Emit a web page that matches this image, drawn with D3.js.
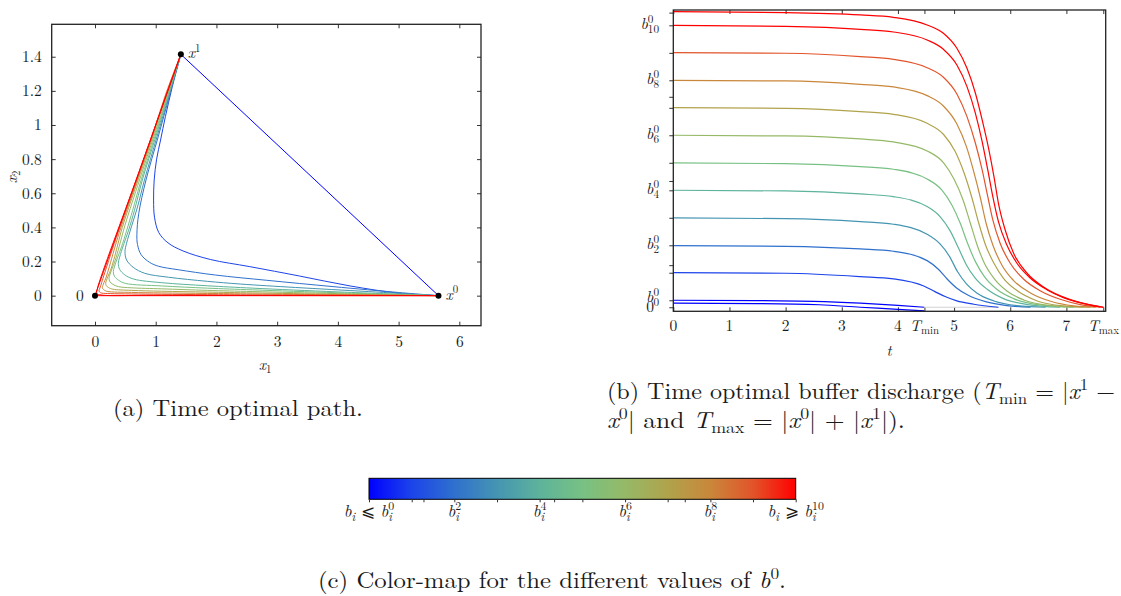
<!DOCTYPE html>
<html>
<head>
<meta charset="utf-8">
<script src="https://cdn.jsdelivr.net/npm/d3@7"></script>
<style>
  body { margin: 0; background: #fff; }
  svg text { fill: #1a1a1a; }
  .tick text { font-size: 15.5px; }
</style>
</head>
<body>
<svg id="fig" width="1121" height="596"></svg>
<script>
// ---------- data: (a) time optimal paths, x = (x1, x2) ----------
const X0 = [5.657, 0], X1 = [1.414, 1.414], ORIGIN = [0, 0];
const xTicksL = [0, 1, 2, 3, 4, 5, 6];
const yTicksL = [0, 0.2, 0.4, 0.6, 0.8, 1, 1.2, 1.4];

const pathB0 = [[5.657, 0], [1.414, 1.414]];
const pathB1 = [[5.657,0],[5.02,0.014],[4.20,0.057],[3.37,0.115],[2.55,0.170],[1.90,0.212],[1.45,0.262],[1.20,0.310],[1.05,0.370],[0.98,0.460],[0.965,0.560],[0.975,0.678],[1.015,0.80],[1.08,0.912],[1.16,1.05],[1.27,1.22],[1.414,1.414]];
const pathB2 = [[5.657,0],[5.02,0.018],[3.92,0.053],[2.83,0.090],[1.98,0.121],[1.37,0.152],[1.05,0.172],[0.90,0.195],[0.76,0.240],[0.70,0.300],[0.69,0.360],[0.72,0.48],[0.84,0.678],[1.04,0.93],[1.232,1.18],[1.414,1.414]];
const pathB3 = [[5.657,0],[4.5,0.024],[3.3,0.048],[2.4,0.068],[1.85,0.084],[1.21,0.108],[0.82,0.131],[0.63,0.166],[0.52,0.209],[0.494,0.258],[0.52,0.307],[0.60,0.404],[0.70,0.52],[0.815,0.678],[1.02,0.93],[1.224,1.18],[1.414,1.414]];
const pathB4 = [[5.657,0],[4.0,0.022],[2.6,0.044],[1.85,0.058],[1.10,0.076],[0.64,0.097],[0.49,0.122],[0.406,0.154],[0.384,0.190],[0.406,0.226],[0.47,0.298],[0.554,0.384],[0.65,0.50],[0.78,0.678],[1.00,0.93],[1.213,1.18],[1.414,1.414]];
const pathB5 = [[5.657,0],[4.0,0.017],[2.6,0.034],[1.85,0.044],[1.10,0.057],[0.50,0.072],[0.386,0.091],[0.319,0.114],[0.302,0.141],[0.319,0.168],[0.369,0.221],[0.436,0.285],[0.52,0.38],[0.62,0.50],[0.76,0.678],[0.984,0.93],[1.206,1.18],[1.414,1.414]];
const pathB6 = [[5.657,0],[4.0,0.012],[2.6,0.024],[1.85,0.031],[1.10,0.040],[0.60,0.046],[0.385,0.053],[0.295,0.066],[0.244,0.083],[0.231,0.102],[0.244,0.121],[0.283,0.160],[0.333,0.206],[0.40,0.29],[0.50,0.42],[0.733,0.678],[0.966,0.93],[1.197,1.18],[1.414,1.414]];
const pathB7 = [[5.657,0],[4.0,0.008],[2.6,0.016],[1.85,0.021],[1.10,0.026],[0.60,0.031],[0.293,0.038],[0.225,0.047],[0.186,0.059],[0.176,0.073],[0.186,0.087],[0.215,0.114],[0.254,0.147],[0.31,0.21],[0.45,0.40],[0.71,0.678],[0.95,0.93],[1.18,1.18],[1.414,1.414]];
const pathB8 = [[5.657,0],[4.0,0.005],[2.6,0.010],[1.85,0.013],[1.10,0.016],[0.60,0.019],[0.20,0.025],[0.155,0.032],[0.128,0.040],[0.121,0.049],[0.128,0.058],[0.148,0.077],[0.175,0.099],[0.22,0.15],[0.40,0.37],[0.695,0.678],[0.94,0.93],[1.17,1.18],[1.414,1.414]];
const pathB9 = [[5.657,0],[4.0,0.003],[2.6,0.005],[1.85,0.006],[1.10,0.008],[0.60,0.010],[0.25,0.012],[0.11,0.015],[0.084,0.019],[0.070,0.024],[0.066,0.029],[0.070,0.035],[0.081,0.045],[0.095,0.059],[0.13,0.10],[0.35,0.34],[0.685,0.678],[0.935,0.93],[1.165,1.18],[1.414,1.414]];
const pathB10 = [[5.657,0],[1.0,0.002],[0.10,0.004],[0.03,0.012],[0.035,0.035],[0.70,0.70],[1.414,1.414]];
const pathTop = [[5.657, 0], [0, 0], [1.414, 1.414]];

// ---------- data: (b) buffer discharge, (t, b) ----------
const T_MIN = 4.472, T_MAX = 7.657;
const tTicks = [0, 1, 2, 3, 4, T_MIN, 5, 6, 7, T_MAX];
const tLabels = ["0", "1", "2", "3", "4", "min", "5", "6", "7", "max"];
const bLevels = [0.083, 0.410, 0.736, 1.063, 1.389, 1.716, 2.043, 2.369, 2.696, 3.022, 3.349];
const bExtraTicks = [0, 0.5, 1.5, 2.5, 3.5];
const bLabelled = [0, 2, 4, 6, 8, 10];

const bufLow = [[0,0.048],[1.5,0.044],[2.6,0.030],[3.33,0],[4.0,-0.024],[4.47,-0.044]];
const buf0 = [[0,0.083],[1.5,0.079],[2.5,0.070],[3.33,0.048],[4.0,0.022],[4.47,0]];
const bufZero = [[4.47,0],[5.79,0]];
const buf1 = [[0,0.412],[2,0.404],[3.33,0.364],[3.92,0.337],[4.46,0.253],[4.66,0.186],[4.84,0.127],[5.05,0.075],[5.35,0.036],[5.79,0]];
const buf2 = [[0,0.732],[2,0.724],[3.33,0.693],[3.92,0.665],[4.52,0.554],[4.72,0.451],[4.88,0.333],[5.05,0.226],[5.26,0.139],[5.56,0.067],[5.94,0.020],[6.36,0]];
const buf3 = [[0,1.061],[2,1.053],[3.33,1.017],[3.92,0.986],[4.52,0.867],[4.75,0.752],[4.92,0.602],[5.06,0.424],[5.22,0.277],[5.41,0.166],[5.71,0.075],[6.12,0.020],[6.63,0]];
const buf4 = [[0,1.390],[2,1.382],[3.33,1.346],[3.92,1.314],[4.52,1.196],[4.75,1.077],[4.93,0.907],[5.08,0.701],[5.22,0.503],[5.38,0.344],[5.59,0.214],[5.88,0.103],[6.30,0.032],[6.89,0]];
const buf5 = [[0,1.714],[2,1.706],[3.33,1.671],[3.92,1.639],[4.52,1.524],[4.78,1.394],[4.96,1.215],[5.11,0.998],[5.24,0.760],[5.38,0.542],[5.54,0.364],[5.76,0.214],[6.06,0.103],[6.48,0.032],[7.13,0]];
const buf6 = [[0,2.043],[2,2.035],[3.33,1.999],[3.92,1.964],[4.52,1.857],[4.81,1.718],[5.00,1.520],[5.16,1.275],[5.29,0.998],[5.41,0.740],[5.54,0.523],[5.71,0.344],[5.94,0.194],[6.24,0.087],[6.72,0.020],[7.31,0]];
const buf7 = [[0,2.371],[2,2.363],[3.33,2.324],[3.92,2.292],[4.52,2.185],[4.81,2.055],[5.02,1.849],[5.18,1.591],[5.32,1.295],[5.44,0.998],[5.56,0.740],[5.71,0.523],[5.88,0.344],[6.12,0.198],[6.48,0.075],[6.95,0.016],[7.43,0]];
const buf8 = [[0,2.696],[2,2.688],[3.33,2.648],[3.92,2.617],[4.52,2.514],[4.81,2.391],[5.05,2.177],[5.22,1.908],[5.35,1.611],[5.47,1.295],[5.57,0.998],[5.69,0.740],[5.85,0.503],[6.06,0.317],[6.36,0.170],[6.72,0.071],[7.13,0.016],[7.52,0]];
const buf9 = [[0,3.025],[2,3.017],[3.33,2.977],[3.92,2.945],[4.52,2.846],[4.81,2.732],[5.05,2.534],[5.23,2.264],[5.38,1.948],[5.50,1.631],[5.60,1.314],[5.69,1.037],[5.82,0.760],[6.00,0.523],[6.24,0.333],[6.54,0.194],[6.89,0.095],[7.25,0.032],[7.61,0]];
const buf10 = [[0,3.349],[2,3.337],[3.33,3.302],[3.92,3.270],[4.52,3.175],[4.81,3.064],[5.05,2.878],[5.23,2.621],[5.38,2.304],[5.50,1.968],[5.60,1.631],[5.69,1.314],[5.79,1.017],[5.94,0.740],[6.12,0.523],[6.36,0.344],[6.66,0.206],[6.95,0.115],[7.31,0.044],[7.66,0]];
const bufTop = [[0,3.511],[2,3.500],[3.33,3.472],[3.92,3.444],[4.52,3.353],[4.81,3.254],[5.05,3.076],[5.23,2.838],[5.38,2.542],[5.50,2.225],[5.62,1.869],[5.71,1.552],[5.79,1.235],[5.91,0.918],[6.06,0.641],[6.30,0.404],[6.60,0.238],[6.89,0.135],[7.25,0.055],[7.66,0]];

// ---------- colour map ----------
const cmapStops = [0, 0.1, 0.2, 0.3, 0.4, 0.5, 0.6, 0.7, 0.8, 0.9, 1];
const cmapColors = ["#0000ff", "#1c44ea", "#2f70cd", "#4595b2", "#5db39b", "#78c184",
                    "#95b967", "#b0a34c", "#c9873b", "#e2542a", "#ff0000"];
const cbTickExtra = [0.5, 1.5, 2.5];

const cmap = d3.scaleLinear(cmapStops, cmapColors).interpolate(d3.interpolateRgb);

// pick the first serif family that is really installed
function pickFont(cands) {
    const ctx = document.createElement("canvas").getContext("2d");
    const probe = "mmmmmmmmmmlliWQ0123456789";
    const widthWith = f => { ctx.font = "40px " + f; return ctx.measureText(probe).width; };
    const bMono = widthWith("monospace"), bSans = widthWith("sans-serif");
    for (const f of cands) {
        if (widthWith(`"${f}", monospace`) !== bMono || widthWith(`"${f}", sans-serif`) !== bSans) return f;
    }
    return null;
}
const serifFont = pickFont(["Latin Modern Roman", "CMU Serif", "Liberation Serif", "DejaVu Serif",
                            "Noto Serif", "Tinos", "Times New Roman", "FreeSerif", "Nimbus Roman"]);
const svg = d3.select("#fig")
    .attr("font-family", serifFont ? `"${serifFont}", serif` : "serif");

// one <text> with sub / superscripts as tspans, y is the baseline
function mathText(parent, x, y, tokens, size, anchor = "start", fitWidth = null) {
    const g = parent.append("g");
    const txt = g.append("text").attr("xml:space", "preserve").style("white-space", "pre");
    let cx = 0, supX = 0, supW = 0;
    for (const [s, kind = "r", it = false] of tokens) {
        const small = kind !== "r";
        const t = txt.append("tspan")
            .attr("font-size", small ? size * 0.7 : size)
            .attr("font-style", it ? "italic" : null)
            .text(s);
        let px = cx, py = 0;
        if (kind === "sup") py = -size * 0.4;
        if (kind === "sub") py = size * 0.22;
        if (kind === "stack") { px = supX; py = size * 0.26; }
        t.attr("x", px).attr("y", py);
        const w = t.node().getComputedTextLength();
        if (kind === "sup") { supX = cx; supW = w; cx += w; }
        else if (kind === "stack") cx = supX + Math.max(supW, w);
        else cx += w;
    }
    const sx = fitWidth ? fitWidth / cx : 1;
    const dx = anchor === "end" ? -cx * sx : anchor === "middle" ? -cx * sx / 2 : 0;
    g.attr("transform", `translate(${x + dx},${y}) scale(${sx},1)`);
    return g;
}

function styleAxis(g) {
    g.select(".domain").remove();
    g.selectAll(".tick line").attr("stroke", "#333");
    g.attr("font-family", null).attr("font-size", null);
    return g;
}

// ================= (a) =================
const xL = d3.scaleLinear([-0.713, 6.357], [51.7, 481]);
const yL = d3.scaleLinear([-0.176, 1.59], [325.7, 24.3]);
const gA = svg.append("g");

gA.append("g").attr("transform", `translate(0,${yL.range()[0]})`)
    .call(d3.axisBottom(xL).tickValues(xTicksL).tickSize(-4).tickPadding(10).tickFormat(d3.format("d")))
    .call(styleAxis);
gA.append("g").attr("transform", `translate(0,${yL.range()[1]})`)
    .call(d3.axisTop(xL).tickValues(xTicksL).tickSize(-4).tickFormat(""))
    .call(styleAxis);
gA.append("g").attr("transform", `translate(${xL.range()[0]},0)`)
    .call(d3.axisLeft(yL).tickValues(yTicksL).tickSize(-4).tickPadding(10).tickFormat(d3.format("~g")))
    .call(styleAxis);
gA.append("g").attr("transform", `translate(${xL.range()[1]},0)`)
    .call(d3.axisRight(yL).tickValues(yTicksL).tickSize(-4).tickFormat(""))
    .call(styleAxis);

const pathsA = [
    {pts: pathB0, c: 0, straight: true}, {pts: pathB1, c: 0.1}, {pts: pathB2, c: 0.2},
    {pts: pathB3, c: 0.3}, {pts: pathB4, c: 0.4}, {pts: pathB5, c: 0.5}, {pts: pathB6, c: 0.6},
    {pts: pathB7, c: 0.7}, {pts: pathB8, c: 0.8}, {pts: pathB9, c: 0.9}, {pts: pathB10, c: 1},
    {pts: pathTop, c: 1, straight: true}
];
const lineA = d3.line().x(d => xL(d[0])).y(d => yL(d[1]));
gA.append("g").selectAll("path").data(pathsA).join("path")
    .attr("fill", "none")
    .attr("stroke", d => cmap(d.c))
    .attr("stroke-width", 1)
    .attr("d", d => lineA.curve(d.straight ? d3.curveLinear : d3.curveCatmullRom.alpha(0.5))(d.pts));

gA.append("g").selectAll("circle").data([ORIGIN, X0, X1]).join("circle")
    .attr("cx", d => xL(d[0])).attr("cy", d => yL(d[1])).attr("r", 3).attr("fill", "#000");

gA.append("rect").attr("x", 51.7).attr("y", 24.3).attr("width", 481 - 51.7).attr("height", 325.7 - 24.3)
    .attr("fill", "none").attr("stroke", "#222").attr("stroke-width", 1.3);

gA.append("text").attr("x", xL(0) - 15).attr("y", yL(0) + 5).attr("font-size", 15.5)
    .attr("text-anchor", "middle").text("0");
mathText(gA, xL(X1[0]) + 7, yL(X1[1]) + 4, [["x", "r", true], ["1", "sup"]], 15.5);
mathText(gA, xL(X0[0]) + 7, yL(X0[1]) + 4, [["x", "r", true], ["0", "sup"]], 15.5);
mathText(gA, 265, 370, [["x", "r", true], ["1", "sub"]], 15.5, "middle");
const yLab = gA.append("g").attr("transform", "translate(13,177) rotate(-90)");
mathText(yLab, 0, 4, [["x", "r", true], ["2", "sub"]], 15.5, "middle");

// ================= (b) =================
const xR = d3.scaleLinear([0, 7.7], [673.3, 1105.7]);
const yR = d3.scaleLinear([-0.048, 3.531], [311.3, 10]);
const gB = svg.append("g");

gB.append("g").attr("transform", `translate(0,${yR.range()[0]})`)
    .call(d3.axisBottom(xR).tickValues(tTicks).tickSize(-4).tickFormat(""))
    .call(styleAxis);
gB.append("g").attr("transform", `translate(0,${yR.range()[1]})`)
    .call(d3.axisTop(xR).tickValues(tTicks).tickSize(-4).tickFormat(""))
    .call(styleAxis);
gB.append("g").attr("transform", `translate(${xR.range()[0]},0)`)
    .call(d3.axisLeft(yR).tickValues(bLevels.concat(bExtraTicks)).tickSize(4).tickFormat(""))
    .call(styleAxis);

const curvesB = [
    {pts: bufLow, c: 0}, {pts: buf0, c: 0}, {pts: bufZero, color: "#d2d2d2"},
    {pts: buf1, c: 0.1}, {pts: buf2, c: 0.2}, {pts: buf3, c: 0.3}, {pts: buf4, c: 0.4},
    {pts: buf5, c: 0.5}, {pts: buf6, c: 0.6}, {pts: buf7, c: 0.7}, {pts: buf8, c: 0.8},
    {pts: buf9, c: 0.9}, {pts: buf10, c: 1}, {pts: bufTop, c: 1}
];
const lineB = d3.line().x(d => xR(d[0])).y(d => yR(d[1])).curve(d3.curveMonotoneX);
gB.append("g").selectAll("path").data(curvesB).join("path")
    .attr("fill", "none")
    .attr("stroke", d => d.color || cmap(d.c))
    .attr("stroke-width", 1.2)
    .attr("d", d => lineB(d.pts));

gB.append("rect").attr("x", 673.3).attr("y", 10).attr("width", 1105.7 - 673.3).attr("height", 311.3 - 10)
    .attr("fill", "none").attr("stroke", "#222").attr("stroke-width", 1.3);

tTicks.forEach((v, i) => {
    const lab = tLabels[i];
    if (lab === "min" || lab === "max")
        mathText(gB, xR(v), 331, [["T", "r", true], [lab, "sub"]], 15.5, "middle");
    else
        gB.append("text").attr("x", xR(v)).attr("y", 331).attr("font-size", 15.5)
            .attr("text-anchor", "middle").text(lab);
});
gB.append("text").attr("x", 889).attr("y", 356).attr("font-size", 15.5)
    .attr("font-style", "italic").attr("text-anchor", "middle").text("t");

gB.append("text").attr("x", 654).attr("y", yR(0) + 5).attr("font-size", 15.5)
    .attr("text-anchor", "end").text("0");
bLabelled.forEach(k => {
    const dy = k === 0 ? 2 : 4;
    mathText(gB, 659, yR(bLevels[k]) + dy, [["b", "r", true], ["0", "sup"], [String(k), "stack"]], 16, "end");
});

// ================= (c) colour bar =================
const xC = d3.scaleLinear([bLevels[0], bLevels[10]], [369, 795.7]);
const grad = svg.append("defs").append("linearGradient").attr("id", "cbar");
grad.selectAll("stop").data(cmapStops).join("stop")
    .attr("offset", d => d * 100 + "%")
    .attr("stop-color", (d, i) => cmapColors[i]);
const gC = svg.append("g");
gC.append("rect").attr("x", xC.range()[0]).attr("y", 478.3)
    .attr("width", xC.range()[1] - xC.range()[0]).attr("height", 21)
    .attr("fill", "url(#cbar)").attr("stroke", "#000").attr("stroke-width", 1);
gC.append("g").attr("transform", "translate(0,499.3)")
    .call(d3.axisBottom(xC).tickValues(bLevels.concat(cbTickExtra)).tickSize(3).tickFormat(""))
    .call(styleAxis);

const cbLabels = [
    [0, [["b", "r", true], ["i", "sub", true], [" ⩽ "], ["b", "r", true], ["0", "sup"], ["i", "stack", true]]],
    [2, [["b", "r", true], ["2", "sup"], ["i", "stack", true]]],
    [4, [["b", "r", true], ["4", "sup"], ["i", "stack", true]]],
    [6, [["b", "r", true], ["6", "sup"], ["i", "stack", true]]],
    [8, [["b", "r", true], ["8", "sup"], ["i", "stack", true]]],
    [10, [["b", "r", true], ["i", "sub", true], [" ⩾ "], ["b", "r", true], ["10", "sup"], ["i", "stack", true]]]
];
cbLabels.forEach(([k, tk]) => mathText(gC, xC(bLevels[k]), 517, tk, 17, "middle"));

// ================= captions =================
mathText(svg, 113, 416, [["(a) Time optimal path."]], 23, "start", 250);
mathText(svg, 607, 399, [["(b) Time optimal buffer discharge ("], ["T", "r", true], ["min", "sub"],
    [" = |"], ["x", "r", true], ["1", "sup"], [" −"]], 23, "start", 508);
mathText(svg, 607, 428, [["x", "r", true], ["0", "sup"], ["| and "], ["T", "r", true], ["max", "sub"],
    [" = |"], ["x", "r", true], ["0", "sup"], ["| + |"], ["x", "r", true], ["1", "sup"], ["|)."]], 23, "start", 298);
mathText(svg, 318, 588, [["(c) Color-map for the different values of "], ["b", "r", true], ["0", "sup"], ["."]],
    23, "start", 468);
</script>
</body>
</html>
